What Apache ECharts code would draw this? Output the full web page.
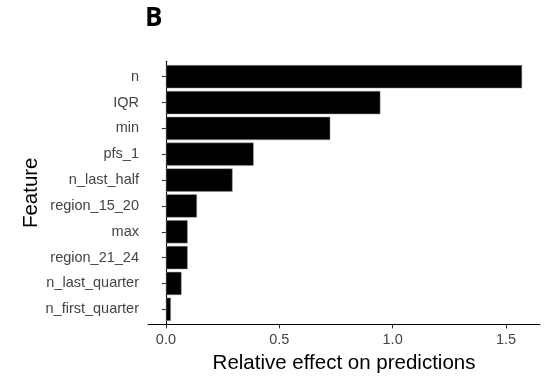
<!DOCTYPE html>
<html>
<head>
<meta charset="utf-8">
<script src="https://cdn.jsdelivr.net/npm/echarts@6/dist/echarts.min.js"></script>
<style>
html,body{margin:0;padding:0;background:#fff;}
#chart{width:557px;height:382px;}
</style>
</head>
<body>
<div id="chart"></div>
<script>
const categories = ["n", "IQR", "min", "pfs_1", "n_last_half", "region_15_20", "max", "region_21_24", "n_last_quarter", "n_first_quarter"];
const values = [1.571, 0.946, 0.725, 0.387, 0.294, 0.137, 0.096, 0.096, 0.069, 0.022];
const xTicks = [0, 0.5, 1.0, 1.5];
const xMin = -0.079, xMax = 1.650;

const chart = echarts.init(document.getElementById('chart'));
const font = "'Liberation Sans', Arial, sans-serif";
chart.setOption({
  animation: false,
  title: {
    text: 'B', left: 140, top: 1,
    textStyle: {fontFamily: "'Open Sans', sans-serif", fontWeight: 'bold', fontSize: 26, color: '#000'}
  },
  grid: [
    {left: 148, right: 17, top: 63.8, bottom: 59.8},
    {left: 148, right: 17, top: 61.2, bottom: 57.6}
  ],
  xAxis: [
    {gridIndex: 0, type: 'value', min: xMin, max: xMax, show: false},
    {gridIndex: 1, type: 'value', min: xMin, max: xMax,
     axisLine: {show: true, lineStyle: {color: '#000', width: 1.1}},
     axisTick: {show: true, length: 4, customValues: xTicks, lineStyle: {color: '#333', width: 1.1}},
     splitLine: {show: false},
     axisLabel: {customValues: xTicks, formatter: v => v.toFixed(1), margin: 8,
                 fontFamily: font, fontSize: 14.5, color: '#444'},
     name: 'Relative effect on predictions', nameLocation: 'middle', nameGap: 28,
     nameTextStyle: {fontFamily: font, fontSize: 20.5, color: '#000'}}
  ],
  yAxis: [
    {gridIndex: 0, type: 'category', data: categories, inverse: true,
     axisLine: {show: false},
     axisTick: {show: true, alignWithLabel: true, length: 4, lineStyle: {color: '#333', width: 1.1}},
     axisLabel: {margin: 9, fontFamily: font, fontSize: 14.5, color: '#444'}},
    {gridIndex: 1, type: 'value', min: 0, max: 1,
     axisLine: {show: true, lineStyle: {color: '#000', width: 1.1}},
     axisTick: {show: false}, axisLabel: {show: false}, splitLine: {show: false},
     name: 'Feature', nameLocation: 'middle', nameGap: 106,
     nameTextStyle: {fontFamily: font, fontSize: 20.5, color: '#000'}}
  ],
  series: [{
    type: 'bar', xAxisIndex: 0, yAxisIndex: 0,
    data: values, barCategoryGap: '10%',
    itemStyle: {color: '#000', borderColor: '#9a9a9a', borderWidth: 0.5}
  }]
});
</script>
</body>
</html>
